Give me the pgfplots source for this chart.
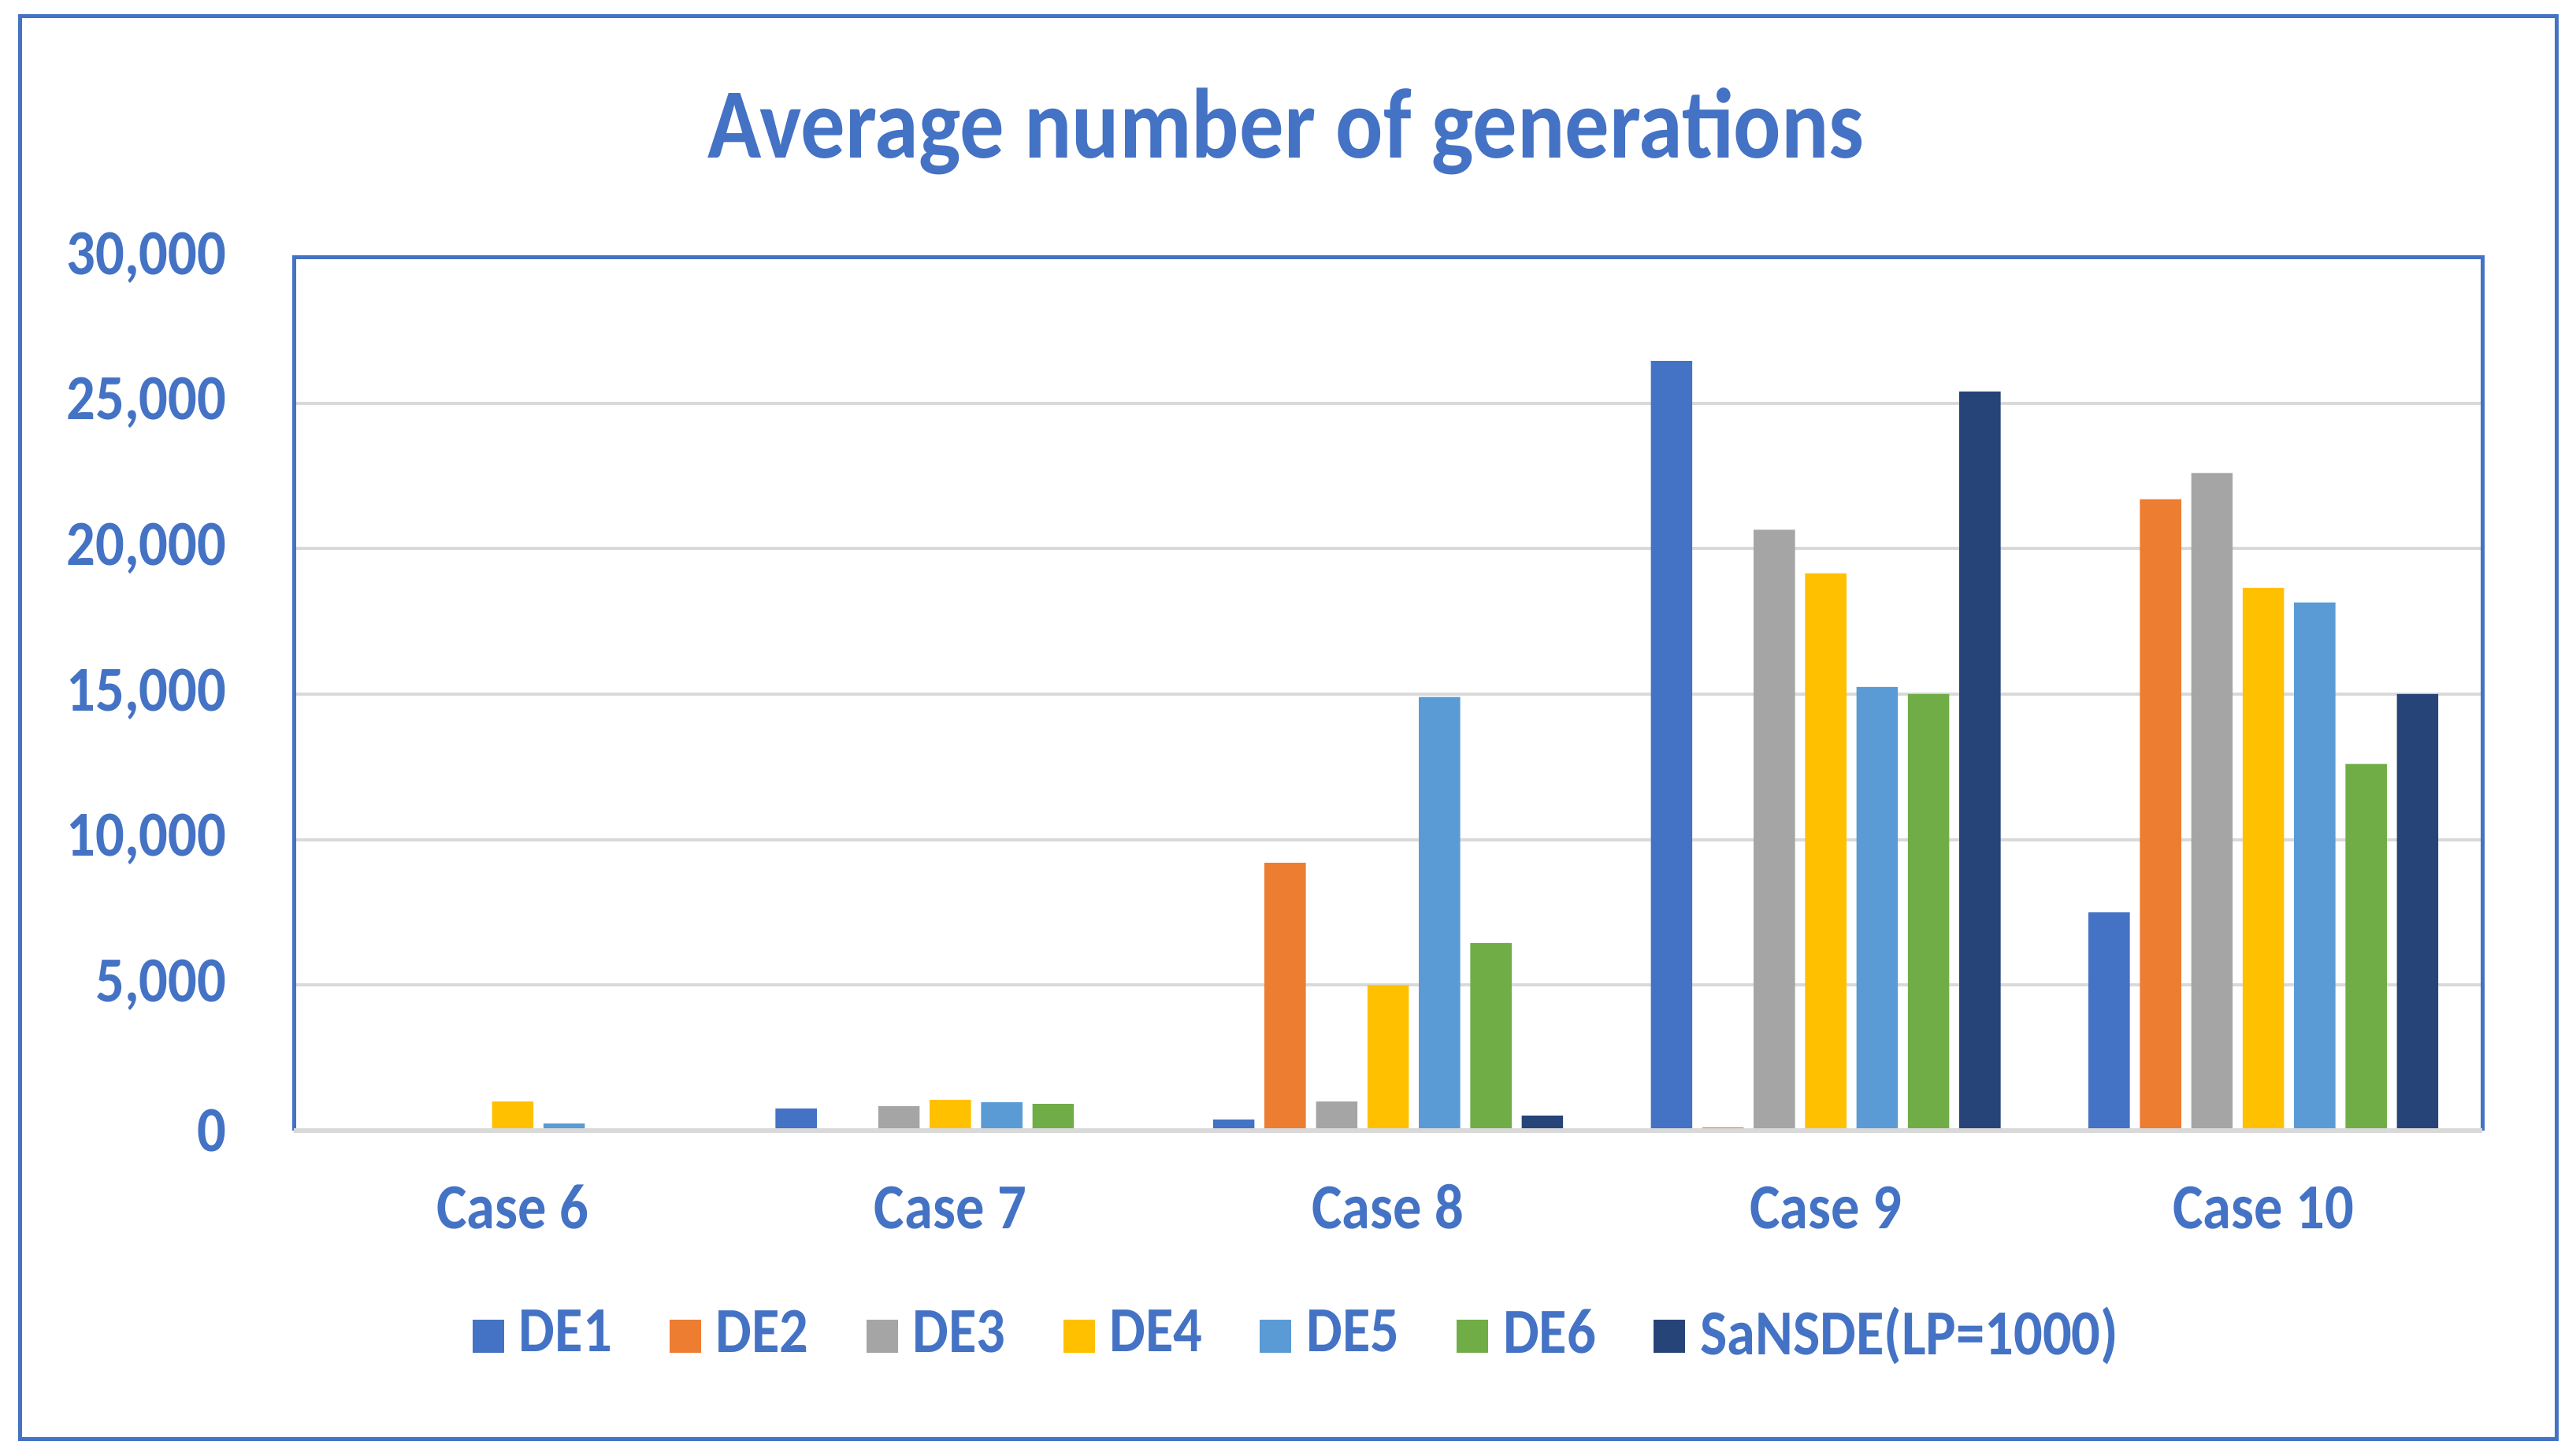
\documentclass[border=0pt]{standalone}
\usepackage{pgfplots}
\pgfplotsset{compat=1.18}
\usepackage{pgfplotstable}
\usepackage{fontspec}
\setmainfont{Carlito}[FakeStretch=0.89]
\newfontfamily\titlefont{Carlito}[FakeStretch=0.89]
\definecolor{cA}{HTML}{4472C4}
\definecolor{cB}{HTML}{ED7D31}
\definecolor{cC}{HTML}{A5A5A5}
\definecolor{cD}{HTML}{FFC000}
\definecolor{cE}{HTML}{5B9BD5}
\definecolor{cF}{HTML}{70AD47}
\definecolor{cG}{HTML}{264478}
\definecolor{txt}{HTML}{4472C4}
\definecolor{gridc}{HTML}{D9D9D9}
\pgfplotstableread{
x DEa DEb DEc DEd DEe DEf SaN
0 0 0 0 1000 250 0 0
1 760 80 840 1060 975 920 0
2 380 9200 1000 5000 14900 6450 515
3 26450 110 20650 19150 15250 15000 25400
4 7500 21700 22600 18650 18150 12600 15000
}\data
\begin{document}
\begin{tikzpicture}[x=1pt,y=1pt]
\path[use as bounding box] (0,0) rectangle (654,369.6);
\draw[txt, line width=1pt] (5,4.2) rectangle (649,365.4);
\node[anchor=base, font=\titlefont\bfseries\fontsize{25.3}{28}\selectfont, text=txt] at (326.6,329.4) {Average number of generations};
\begin{axis}[
  at={(74.6pt,82.6pt)}, anchor=south west,
  width=555.6pt, height=221.6pt, scale only axis,
  ybar=2.55pt, bar width=10.5pt,
  xmin=-0.5, xmax=4.5, ymin=0, ymax=30000,
  xtick={0,1,2,3,4},
  xticklabels={Case 6,Case 7,Case 8,Case 9,Case 10},
  ytick={0,5000,10000,15000,20000,25000,30000},
  scaled y ticks=false,
  /pgf/number format/.cd, 1000 sep={,}, assume math mode=true, /pgfplots/.cd,
  major tick length=0pt,
  axis line style={draw=none},
  ymajorgrids, grid style={gridc, line width=0.8pt},
  ticklabel style={font=\bfseries\fontsize{16.3}{18}\selectfont, text=txt, inner sep=0pt},
  yticklabel style={anchor=east, xshift=-17pt},
  xticklabel style={anchor=base, yshift=-25pt},
  clip=false,
  legend columns=7,
  legend image code/.code={\fill[#1, draw=none] (0pt,-4.7pt) rectangle (8.0pt,3.7pt);},
  legend style={draw=none, fill=none, at={(0.4577,-0.2330)}, anchor=center,
    font=\bfseries\fontsize{16.3}{18}\selectfont, text=txt,
    nodes={inner sep=0pt},
    /tikz/every odd column/.append style={column sep=3.8pt},
    /tikz/every even column/.append style={column sep=14.6pt}},
]
\addplot[fill=cA, draw=none] table[x=x, y=DEa] {\data};
\addplot[fill=cB, draw=none] table[x=x, y=DEb] {\data};
\addplot[fill=cC, draw=none] table[x=x, y=DEc] {\data};
\addplot[fill=cD, draw=none] table[x=x, y=DEd] {\data};
\addplot[fill=cE, draw=none] table[x=x, y=DEe] {\data};
\addplot[fill=cF, draw=none] table[x=x, y=DEf] {\data};
\addplot[fill=cG, draw=none] table[x=x, y=SaN] {\data};
\legend{DE1,DE2,DE3,DE4,DE5,DE6,SaNSDE(LP=1000)}
\draw[txt, line width=1pt] (rel axis cs:0,0) -- (rel axis cs:0,1) -- (rel axis cs:1,1) -- (rel axis cs:1,0);
\draw[gridc, line width=1.2pt] (rel axis cs:0,0) -- (rel axis cs:1,0);
\end{axis}
\end{tikzpicture}
\end{document}
